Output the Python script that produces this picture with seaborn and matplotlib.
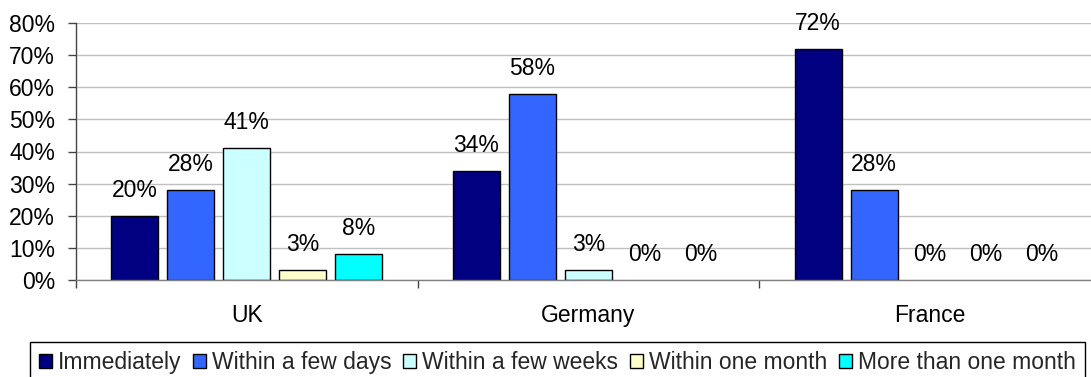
import matplotlib
matplotlib.use("Agg")
import matplotlib.pyplot as plt
from matplotlib.patches import Patch
from matplotlib.ticker import FuncFormatter, FixedLocator
import seaborn as sns
import pandas as pd

countries = ["UK", "Germany", "France"]
timings = ["Immediately", "Within a few days", "Within a few weeks",
           "Within one month", "More than one month"]
uk = [20, 28, 41, 3, 8]
germany = [34, 58, 3, 0, 0]
france = [72, 28, 0, 0, 0]
palette = ["#000080", "#3366FF", "#CCFFFF", "#FFFFCC", "#00FFFF"]
y_ticks = [0, 10, 20, 30, 40, 50, 60, 70, 80]

rows = []
for country, vals in zip(countries, [uk, germany, france]):
    for t, v in zip(timings, vals):
        rows.append({"country": country, "timing": t, "share": v})
df = pd.DataFrame(rows)

sns.set_style("white")
plt.rcParams["font.family"] = ["Liberation Sans", "DejaVu Sans"]

W, H = 1091, 377
FS = 16.5
fig = plt.figure(figsize=(W / 100, H / 100), dpi=100)
ax = fig.add_axes([76 / W, 1 - 280 / H, (1101 - 76) / W, (280 - 23) / H])

sns.barplot(data=df, x="country", y="share", hue="timing", order=countries,
            hue_order=timings, palette=palette, width=0.82, gap=0.16,
            edgecolor="black", linewidth=1.0, saturation=1, legend=False,
            ax=ax)

for container in ax.containers:
    for bar in container:
        if bar.get_height() == 0:
            bar.set_linewidth(0)
    ax.bar_label(container, labels=[f"{b.get_height():.0f}%" for b in container],
                 padding=10, fontsize=FS, color="black")

ax.set_ylim(0, 80)
ax.set_xlim(-0.5, 2.5)
ax.yaxis.set_major_locator(FixedLocator(y_ticks))
ax.yaxis.set_major_formatter(FuncFormatter(lambda v, p: f"{v:.0f}%"))
ax.grid(axis="y", color="#C0C0C0", linewidth=1.0)
ax.set_axisbelow(True)

ax.set_xlabel("")
ax.set_ylabel("")
ax.xaxis.set_minor_locator(FixedLocator([-0.5, 0.5, 1.5, 2.5]))
ax.tick_params(axis="x", which="major", length=0, pad=17, labelsize=FS,
               labelcolor="black")
ax.tick_params(axis="x", which="minor", length=6, width=1, color="#444444",
               direction="out", bottom=True)
ax.tick_params(axis="y", length=6, width=1, color="#444444", direction="out",
               left=True, labelsize=FS, labelcolor="black", pad=9)

for side in ["top", "right"]:
    ax.spines[side].set_visible(False)
ax.spines["left"].set_color("#444444")
ax.spines["bottom"].set_color("#808080")
ax.spines["left"].set_linewidth(1.0)
ax.spines["bottom"].set_linewidth(1.0)

LFS = 16.5
handles = [Patch(facecolor=c, edgecolor="black", linewidth=1.0) for c in palette]
leg = fig.legend(handles, timings, loc="upper left",
                 bbox_to_anchor=(30 / W, 1 - 342 / H),
                 ncol=5, frameon=True, fancybox=False, framealpha=1,
                 fontsize=LFS, handlelength=0.57, handleheight=0.57,
                 handletextpad=0.27, columnspacing=0.5, borderaxespad=0,
                 borderpad=0.38)
leg.get_frame().set_edgecolor("black")
leg.get_frame().set_linewidth(1.0)

fig.savefig("out.png", dpi=100)
